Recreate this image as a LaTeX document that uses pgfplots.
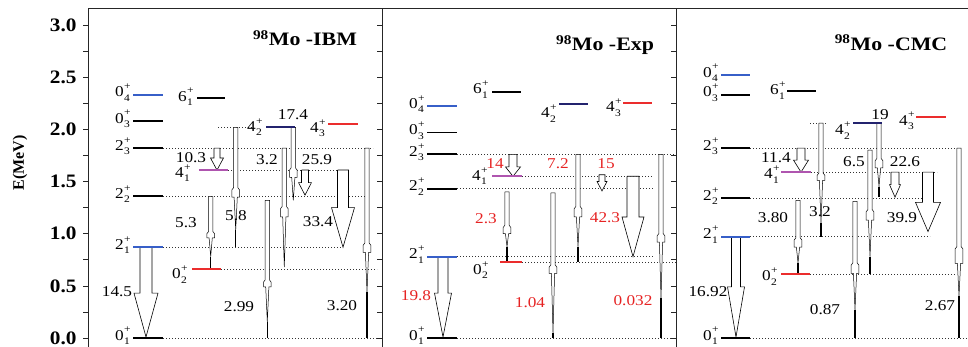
\documentclass[border=0pt]{standalone}
\usepackage{fontspec}
\setmainfont{Liberation Serif}
\usepackage{graphicx}
\usepackage{pgfplots}
\pgfplotsset{compat=1.18}

\definecolor{lvblue}{RGB}{55,95,200}
\definecolor{lvnavy}{RGB}{35,35,110}
\definecolor{lvpurple}{RGB}{175,85,175}
\definecolor{lvred}{RGB}{235,45,45}
\definecolor{txtred}{RGB}{230,35,35}

\newcommand\sx[1]{\scalebox{1.15}[1]{#1}}
\newcommand\lv[2]{#1\kern0.3pt\makebox[0pt][l]{\raisebox{0.48em}{\fontsize{10}{10}\selectfont +}}\raisebox{-0.3em}{\fontsize{10}{10}\selectfont #2}}

% level line: x1 x2 y colour
\newcommand\lvl[4]{\addplot[line width=1.9pt, color=#4] coordinates {(#1,#3) (#2,#3)};}
% dotted guide: x1 x2 y
\newcommand\dotl[3]{\addplot[black!80, line width=0.7pt, dash pattern=on 1pt off 2pt] coordinates {(#1,#3) (#2,#3)};}
% wide arrow: x ytop ybot shaftwidth headwidth yhead
\newcommand\widearrow[6]{%
  \pgfmathsetmacro\xa{#1-#4/2}\pgfmathsetmacro\xb{#1+#4/2}%
  \pgfmathsetmacro\xc{#1-#5/2}\pgfmathsetmacro\xd{#1+#5/2}%
  \edef\tmp{\noexpand\addplot[draw=black, fill=white, line width=0.6pt] coordinates {(\xa,#2) (\xb,#2) (\xb,#6) (\xd,#6) (#1,#3) (\xc,#6) (\xa,#6) (\xa,#2)};}\tmp}
% thin arrow: x ytop bulgetop bulgebottom tip ybot
\newcommand\thinarrow[6]{%
  \pgfmathsetmacro\xa{#1-2.2}\pgfmathsetmacro\xb{#1+2.2}%
  \pgfmathsetmacro\xc{#1-3.8}\pgfmathsetmacro\xd{#1+3.8}%
  \pgfmathsetmacro\xe{#1-1.6}\pgfmathsetmacro\xf{#1+1.6}%
  \pgfmathsetmacro\ybm{#3-0.02}%
  \edef\tmp{\noexpand\addplot[draw=black, fill=white, line width=0.5pt] coordinates {(\xa,#2) (\xb,#2) (\xb,#3) (\xd,\ybm) (\xd,#4) (\xf,#4) (#1,#5) (\xe,#4) (\xc,#4) (\xc,\ybm) (\xa,#3) (\xa,#2)};
  \noexpand\addplot[black, line width=1.1pt] coordinates {(#1,#5) (#1,#6)};}\tmp}
\newcommand\lvlab[3]{\node[anchor=base east, inner sep=0pt, font=\fontsize{15}{16}\selectfont] at (axis cs:#1,#2) {\sx{#3}};}
\newcommand\num[4][black]{\node[inner sep=0pt, text=#1, font=\fontsize{15}{17}\selectfont] at (axis cs:#2,#3) {\sx{#4}};}
\newcommand\ttl[3]{\node[inner sep=0pt, font=\bfseries\fontsize{19}{21}\selectfont] at (axis cs:#1,#2) {\sx{#3}};}

\pgfplotsset{panel/.style={
  scale only axis, width=294pt, height=339pt,
  xmin=0, xmax=294, ymin=-0.086, ymax=3.163,
  axis x line*=top, axis y line*=left,
  xtick=\empty,
  ytick={0,0.5,...,3}, minor ytick={0.25,0.75,...,2.75},
  tick align=outside, major tick length=5pt, minor tick length=5pt,
  axis line style={-, line width=0.8pt, black!85},
  tick style={black!85, line width=0.6pt},
  anchor=south west}}

\begin{document}
\begin{tikzpicture}
\useasboundingbox (0,0) rectangle (968pt,347pt);

% ---------------- IBM ----------------
\begin{axis}[panel, at={(88pt,0pt)},
  yticklabel={\scalebox{1.12}[1]{\pgfmathprintnumber[fixed,fixed zerofill,precision=1,assume math mode=true]{\tick}}},
  yticklabel style={font=\bfseries\fontsize{19}{21}\selectfont, xshift=-3pt},
  ylabel={E(MeV)},
  ylabel style={font=\bfseries\fontsize{16}{18}\selectfont, at={(axis description cs:-0.231,0.543)}, anchor=center}]
\dotl{75}{289}{0}
\dotl{75}{255}{0.87}
\dotl{75}{277}{1.36}
\dotl{75}{285}{1.82}
\dotl{140}{250}{1.61}
\dotl{133}{289}{0.66}
\dotl{130}{165}{2.02}
\widearrow{58}{0.87}{0.01}{12}{24}{0.43}
\widearrow{129}{1.82}{1.61}{6}{13}{1.725}
\widearrow{217}{1.61}{1.37}{7}{13}{1.49}
\widearrow{255}{1.61}{0.87}{11}{23}{1.25}
\thinarrow{122.7}{1.355}{1.02}{0.96}{0.78}{0.66}
\thinarrow{147.7}{2.02}{1.44}{1.35}{1.035}{0.87}
\thinarrow{179.3}{1.32}{0.556}{0.49}{0.156}{0.0}
\thinarrow{196.3}{1.82}{1.26}{1.16}{0.68}{0.68}
\thinarrow{205.3}{2.02}{1.63}{1.54}{1.32}{1.32}
\thinarrow{279}{1.82}{0.91}{0.82}{0.44}{0.0}
\lvl{45}{75}{0}{black}
\lvl{45}{75}{0.87}{lvblue}
\lvl{45}{75}{1.36}{black}
\lvl{45}{75}{1.82}{black}
\lvl{45}{75}{2.08}{black}
\lvl{45}{75}{2.33}{lvblue}
\lvl{109}{137}{2.30}{black}
\lvl{111}{140}{1.61}{lvpurple}
\lvl{104}{133}{0.66}{lvred}
\lvl{178}{207}{2.02}{lvnavy}
\lvl{240}{270}{2.05}{lvred}
\lvlab{42}{-0.02}{\lv{0}{1}}
\lvlab{42}{0.85}{\lv{2}{1}}
\lvlab{42}{1.34}{\lv{2}{2}}
\lvlab{42}{1.80}{\lv{2}{3}}
\lvlab{42}{2.06}{\lv{0}{3}}
\lvlab{42}{2.31}{\lv{0}{4}}
\lvlab{105}{2.27}{\lv{6}{1}}
\lvlab{102}{1.54}{\lv{4}{1}}
\lvlab{99}{0.57}{\lv{0}{2}}
\lvlab{174}{1.98}{\lv{4}{2}}
\lvlab{237}{1.97}{\lv{4}{3}}
\num{29}{0.44}{14.5}
\num{98}{1.105}{5.3}
\num{148}{1.17}{5.8}
\num{103}{1.73}{10.3}
\num{151}{0.30}{2.99}
\num{179}{1.71}{3.2}
\num{205}{2.14}{17.4}
\num{229}{1.71}{25.9}
\num{230}{1.115}{33.4}
\num{254}{0.31}{3.20}
\ttl{217}{2.875}{\textsuperscript{98}Mo -IBM}
\end{axis}

% ---------------- Exp ----------------
\begin{axis}[panel, at={(382pt,0pt)}, yticklabels={}]
\dotl{75}{294}{0}
\dotl{75}{271}{0.78}
\dotl{140}{294}{0.73}
\dotl{75}{271}{1.43}
\dotl{75}{294}{1.76}
\dotl{140}{271}{1.55}
\widearrow{61}{0.78}{0.01}{10}{17}{0.43}
\widearrow{131}{1.76}{1.55}{8}{15}{1.64}
\widearrow{220}{1.565}{1.41}{6}{10}{1.50}
\widearrow{251}{1.55}{0.78}{12}{22}{1.16}
\thinarrow{125}{1.40}{1.08}{1.00}{0.875}{0.73}
\thinarrow{171}{1.39}{0.70}{0.62}{0.05}{0.0}
\thinarrow{196}{1.76}{1.26}{1.16}{0.875}{0.73}
\thinarrow{279}{1.76}{1.0}{0.92}{0.38}{0.0}
\lvl{45}{75}{0}{black}
\lvl{45}{75}{0.78}{lvblue}
\lvl{45}{75}{1.43}{black}
\lvl{45}{75}{1.76}{black}
\lvl{45}{75}{1.97}{black}
\lvl{45}{75}{2.22}{lvblue}
\lvl{110}{139}{2.36}{black}
\lvl{110}{140}{1.55}{lvpurple}
\lvl{118}{140}{0.73}{lvred}
\lvl{177}{206}{2.24}{lvnavy}
\lvl{241}{270}{2.25}{lvred}
\lvlab{42}{-0.02}{\lv{0}{1}}
\lvlab{42}{0.76}{\lv{2}{1}}
\lvlab{42}{1.41}{\lv{2}{2}}
\lvlab{42}{1.74}{\lv{2}{3}}
\lvlab{42}{1.95}{\lv{0}{3}}
\lvlab{42}{2.20}{\lv{0}{4}}
\lvlab{106}{2.34}{\lv{6}{1}}
\lvlab{105}{1.51}{\lv{4}{1}}
\lvlab{106}{0.61}{\lv{0}{2}}
\lvlab{174}{2.11}{\lv{4}{2}}
\lvlab{239}{2.17}{\lv{4}{3}}
\num[txtred]{34}{0.41}{19.8}
\num[txtred]{113}{1.675}{14}
\num[txtred]{104}{1.14}{2.3}
\num[txtred]{148}{0.34}{1.04}
\num[txtred]{176}{1.675}{7.2}
\num[txtred]{224}{1.675}{15}
\num[txtred]{223}{1.15}{42.3}
\num[txtred]{251}{0.355}{0.032}
\ttl{223}{2.81}{\textsuperscript{98}Mo -Exp}
\end{axis}

% ---------------- CMC ----------------
\begin{axis}[panel, at={(676pt,0pt)}, yticklabels={}]
\dotl{74}{292}{0}
\dotl{74}{254}{0.97}
\dotl{134}{281}{0.61}
\dotl{74}{251}{1.34}
\dotl{74}{284}{1.82}
\dotl{135}{261}{1.59}
\dotl{134}{150}{2.06}
\widearrow{60}{0.97}{0.01}{9}{17}{0.49}
\widearrow{125}{1.82}{1.59}{8}{15}{1.705}
\widearrow{219}{1.59}{1.35}{8}{11}{1.47}
\widearrow{252}{1.59}{1.02}{11}{25}{1.30}
\thinarrow{122}{1.32}{0.96}{0.87}{0.72}{0.61}
\thinarrow{145}{2.06}{1.58}{1.51}{1.10}{0.97}
\thinarrow{179}{1.31}{0.72}{0.62}{0.27}{0.0}
\thinarrow{194}{1.80}{1.23}{1.13}{0.78}{0.61}
\thinarrow{203}{2.06}{1.72}{1.63}{1.45}{1.355}
\thinarrow{283}{1.82}{0.875}{0.715}{0.40}{0.0}
\lvl{45}{74}{0}{black}
\lvl{45}{74}{0.97}{lvblue}
\lvl{45}{74}{1.34}{black}
\lvl{45}{74}{1.82}{black}
\lvl{45}{74}{2.33}{black}
\lvl{45}{74}{2.52}{lvblue}
\lvl{111}{140}{2.37}{black}
\lvl{105}{135}{1.59}{lvpurple}
\lvl{105}{134}{0.61}{lvred}
\lvl{177}{206}{2.06}{lvnavy}
\lvl{240}{270}{2.12}{lvred}
\lvlab{42}{-0.02}{\lv{0}{1}}
\lvlab{42}{0.95}{\lv{2}{1}}
\lvlab{42}{1.32}{\lv{2}{2}}
\lvlab{42}{1.80}{\lv{2}{3}}
\lvlab{42}{2.31}{\lv{0}{3}}
\lvlab{42}{2.50}{\lv{0}{4}}
\lvlab{109}{2.33}{\lv{6}{1}}
\lvlab{103}{1.525}{\lv{4}{1}}
\lvlab{101}{0.55}{\lv{0}{2}}
\lvlab{174}{1.95}{\lv{4}{2}}
\lvlab{238}{2.04}{\lv{4}{3}}
\num{32}{0.44}{16.92}
\num{100}{1.725}{11.4}
\num{97}{1.15}{3.80}
\num{144}{1.21}{3.2}
\num{149}{0.275}{0.87}
\num{178}{1.69}{6.5}
\num{204}{2.14}{19}
\num{229}{1.69}{22.6}
\num{226}{1.15}{39.9}
\num{264}{0.31}{2.67}
\ttl{215}{2.83}{\textsuperscript{98}Mo -CMC}
\end{axis}
\end{tikzpicture}
\end{document}
